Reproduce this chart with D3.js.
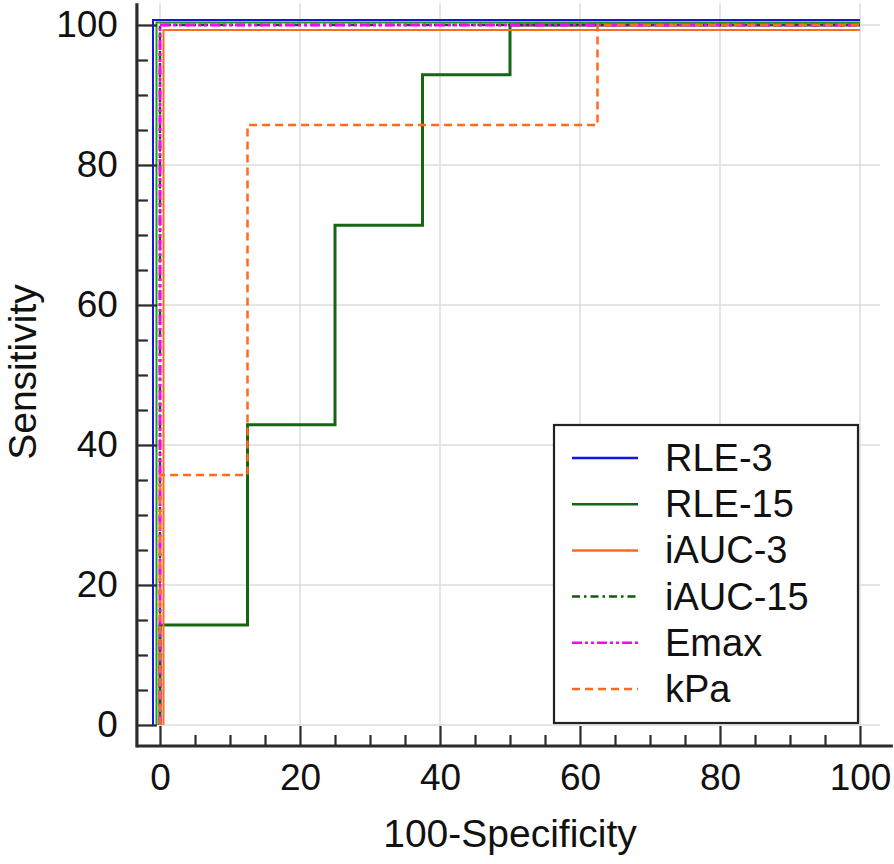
<!DOCTYPE html>
<html>
<head>
<meta charset="utf-8">
<script src="https://cdn.jsdelivr.net/npm/d3@7/dist/d3.min.js"></script>
<style>
  html, body { margin: 0; padding: 0; background: #fff; }
  svg { display: block; }
  text { font-family: "Liberation Sans", Arial, sans-serif; fill: #111; }
</style>
</head>
<body>
<svg id="chart" width="894" height="864"></svg>
<script>
// ---------- data ----------
const xTicks = [0, 20, 40, 60, 80, 100];
const yTicks = [0, 20, 40, 60, 80, 100];
const minorStep = 5;

const seriesNames = ["RLE-3", "RLE-15", "iAUC-3", "iAUC-15", "Emax", "kPa"];

const fprRLE3 = [0, 0, 100];
const sensRLE3 = [0, 100, 100];

const fprRLE15 = [0, 0, 12.5, 12.5, 25, 25, 37.5, 37.5, 50, 50, 100];
const sensRLE15 = [0, 14.3, 14.3, 42.9, 42.9, 71.4, 71.4, 92.9, 92.9, 100, 100];

const fprIAUC3 = [0, 0, 100];
const sensIAUC3 = [0, 100, 100];

const fprIAUC15 = [0, 0, 100];
const sensIAUC15 = [0, 100, 100];

const fprEmax = [0, 0, 100];
const sensEmax = [0, 100, 100];

const fprKPa = [0, 0, 12.5, 12.5, 62.5, 62.5, 100];
const sensKPa = [0, 35.7, 35.7, 85.7, 85.7, 100, 100];

// extra unlabeled perfect-curve trace visible in the picture (solid green, slightly shifted)
const fprExtra = [0, 0, 100];
const sensExtra = [0, 100, 100];

// ---------- styles ----------
const styles = {
  "RLE-3":   { color: "#1414e6", width: 2,   dash: null,             dx: -1.0, dy: 0.7 },
  "extra":   { color: "#1e9a1e", width: 2,   dash: null,             dx: -0.5, dy: 0.35 },
  "RLE-15":  { color: "#146614", width: 3,   dash: null,             dx: 0,    dy: 0 },
  "iAUC-3":  { color: "#ff6a1f", width: 2,   dash: null,             dx: 0.5,  dy: -0.7 },
  "iAUC-15": { color: "#0f5a0f", width: 2.5, dash: "8,4,2.5,4",      dx: 0,    dy: 0 },
  "Emax":    { color: "#ff00ff", width: 3,   dash: "10,3,3,3,3,3",   dx: 0,    dy: 0 },
  "kPa":     { color: "#ff6a1f", width: 2.5, dash: "8,5",            dx: 0,    dy: 0 }
};

const curves = [
  { key: "RLE-3",   x: fprRLE3,   y: sensRLE3 },
  { key: "extra",   x: fprExtra,  y: sensExtra },
  { key: "RLE-15",  x: fprRLE15,  y: sensRLE15 },
  { key: "iAUC-3",  x: fprIAUC3,  y: sensIAUC3 },
  { key: "iAUC-15", x: fprIAUC15, y: sensIAUC15 },
  { key: "Emax",    x: fprEmax,   y: sensEmax },
  { key: "kPa",     x: fprKPa,    y: sensKPa }
];

// ---------- layout ----------
const svg = d3.select("#chart");
const x = d3.scaleLinear().domain([0, 100]).range([160, 860]);
const y = d3.scaleLinear().domain([0, 100]).range([725, 25]);
const xExt = [-3.3, 104.7];   // axis extents in data units
const yExt = [-3.0, 103.1];
const gridXMax = 102.9;

// grid
const grid = svg.append("g").attr("stroke", "#dcdcdc").attr("stroke-width", 1.5);
grid.selectAll("line.v").data(xTicks).join("line")
  .attr("x1", d => x(d)).attr("x2", d => x(d))
  .attr("y1", y(yExt[1])).attr("y2", y(yExt[0]));
grid.selectAll("line.h").data(yTicks).join("line")
  .attr("y1", d => y(d)).attr("y2", d => y(d))
  .attr("x1", x(xExt[0])).attr("x2", x(gridXMax));

// curves (small display offsets separate overlapping curves; right ends stay at 100)
const line = d3.line().curve(d3.curveLinear);
const cg = svg.append("g").attr("fill", "none");
curves.forEach(c => {
  const s = styles[c.key];
  const pts = c.x.map((v, i) => [
    x(v < 100 ? v + s.dx : v),
    y(c.y[i] > 0 ? c.y[i] + s.dy : c.y[i])
  ]);
  cg.append("path")
    .attr("d", line(pts))
    .attr("stroke", s.color)
    .attr("stroke-width", s.width)
    .attr("stroke-dasharray", s.dash)
    .attr("stroke-linejoin", "miter")
    .attr("stroke-linecap", "butt");
});

// axes
const axisColor = "#2b2b2b";
const xAxisY = y(yExt[0]);
const yAxisX = x(xExt[0]);

const minorX = d3.range(0, 100 + 0.001, minorStep).filter(v => v % 20 !== 0);
const minorY = minorX.slice();

const gx = svg.append("g").attr("transform", `translate(0,${xAxisY})`);
gx.call(d3.axisBottom(x).tickValues(xTicks).tickSize(-20).tickPadding(18).tickFormat(d3.format("d")));
const gxm = svg.append("g").attr("transform", `translate(0,${xAxisY})`);
gxm.call(d3.axisBottom(x).tickValues(minorX).tickSize(-11).tickFormat(""));

const gy = svg.append("g").attr("transform", `translate(${yAxisX},0)`);
gy.call(d3.axisLeft(y).tickValues(yTicks).tickSize(-20).tickPadding(19).tickFormat(d3.format("d")));
const gym = svg.append("g").attr("transform", `translate(${yAxisX},0)`);
gym.call(d3.axisLeft(y).tickValues(minorY).tickSize(-11).tickFormat(""));

[gx, gxm, gy, gym].forEach(g => {
  g.select(".domain").remove();
  g.selectAll(".tick line").attr("stroke", axisColor).attr("stroke-width", 2.2);
  g.selectAll(".tick text").attr("font-size", 37).attr("fill", "#111")
    .attr("font-family", "'Liberation Sans', Arial, sans-serif");
});

svg.append("line")
  .attr("x1", x(xExt[0])).attr("x2", x(xExt[1]))
  .attr("y1", xAxisY).attr("y2", xAxisY)
  .attr("stroke", axisColor).attr("stroke-width", 3.2);
svg.append("line")
  .attr("x1", yAxisX).attr("x2", yAxisX)
  .attr("y1", y(yExt[1])).attr("y2", xAxisY + 1.6)
  .attr("stroke", axisColor).attr("stroke-width", 3.2);

// axis titles
svg.append("text")
  .attr("x", 510).attr("y", 833)
  .attr("text-anchor", "middle").attr("dominant-baseline", "central")
  .attr("font-size", 39).text("100-Specificity");
svg.append("text")
  .attr("transform", "translate(22,372) rotate(-90)")
  .attr("text-anchor", "middle").attr("dominant-baseline", "central")
  .attr("font-size", 39).text("Sensitivity");

// legend
const lg = svg.append("g");
lg.append("rect")
  .attr("x", 554).attr("y", 425).attr("width", 304).attr("height", 298)
  .attr("fill", "#fff").attr("stroke", "#222").attr("stroke-width", 2.2);
seriesNames.forEach((name, i) => {
  const s = styles[name];
  const yy = 458 + i * 46.2;
  lg.append("line")
    .attr("x1", 572).attr("x2", 638).attr("y1", yy).attr("y2", yy)
    .attr("stroke", s.color).attr("stroke-width", 2.5)
    .attr("stroke-dasharray", s.dash);
  lg.append("text")
    .attr("x", 665).attr("y", yy)
    .attr("dominant-baseline", "central")
    .attr("font-size", 38).text(name);
});
</script>
</body>
</html>
